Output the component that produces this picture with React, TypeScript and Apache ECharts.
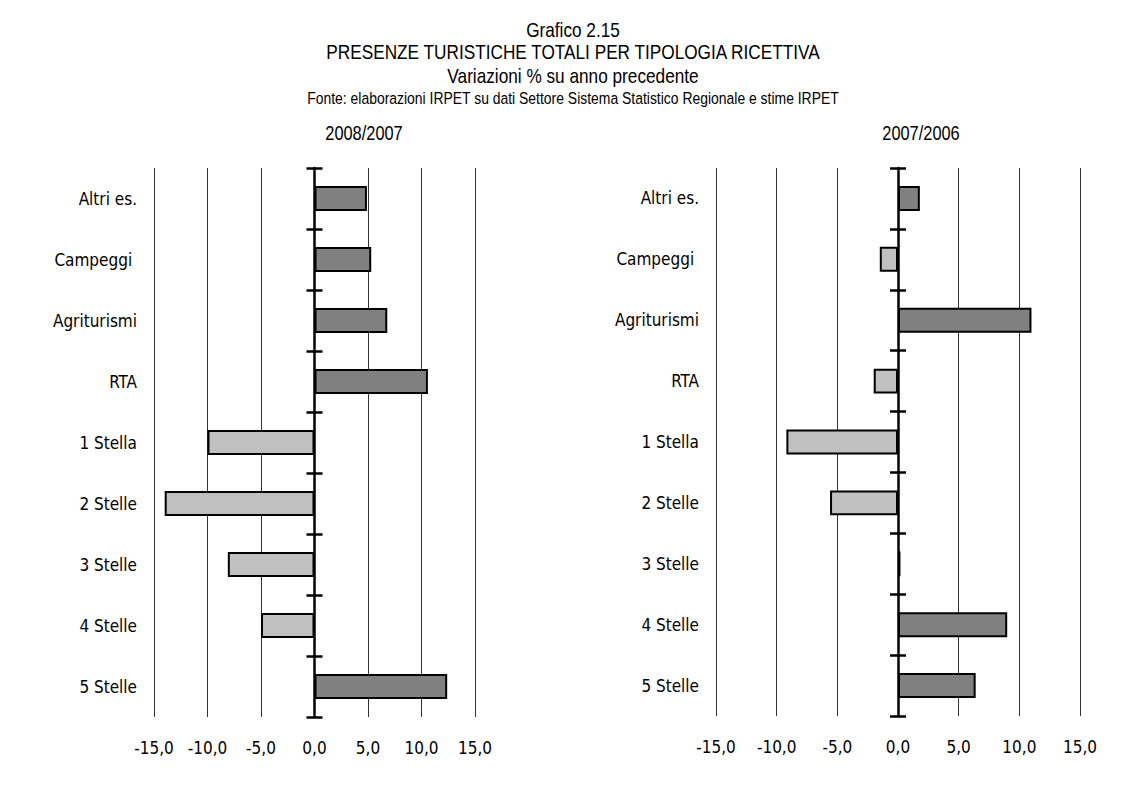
import React, { useEffect, useRef } from "react";
import * as echarts from "echarts";

const categories = [
  "Altri es.",
  "Campeggi ",
  "Agriturismi",
  "RTA",
  "1 Stella",
  "2 Stelle",
  "3 Stelle",
  "4 Stelle",
  "5 Stelle",
];
const values2008 = [4.9, 5.3, 6.8, 10.6, -10.0, -14.0, -8.1, -5.0, 12.4];
const values2007 = [1.8, -1.5, 11.0, -2.0, -9.2, -5.6, 0.2, 9.0, 6.4];
const xTicks = { min: -15, max: 15, interval: 5 };
const titleLines = [
  "Grafico 2.15",
  "PRESENZE TURISTICHE TOTALI PER TIPOLOGIA RICETTIVA",
  "Variazioni % su anno precedente",
  "Fonte: elaborazioni IRPET su dati Settore Sistema Statistico Regionale e stime IRPET",
];
const panelTitles = ["2008/2007", "2007/2006"];

const AXIS_FONT = "'DejaVu Sans Condensed', 'Liberation Sans', sans-serif";
const TITLE_FONT = "'Liberation Sans', Arial, sans-serif";

export default function App() {
  const ref = useRef<HTMLDivElement>(null);
  useEffect(() => {
    if (!ref.current) return;
    const chart = echarts.init(ref.current, null, { renderer: "svg" });
    const grids = [
      { left: 154, top: 168, width: 321, height: 549 },
      { left: 716, top: 168, width: 364, height: 548 },
    ];
    const xAxes: any[] = [];
    const yAxes: any[] = [];
    const series: any[] = [];
    [values2008, values2007].forEach((vals, gi) => {
      xAxes.push({
        type: "value",
        gridIndex: gi,
        min: xTicks.min,
        max: xTicks.max,
        interval: xTicks.interval,
        axisLine: { show: false },
        axisTick: { show: false },
        splitLine: { show: true, lineStyle: { color: "#333", width: 1 } },
        axisLabel: {
          margin: 22,
          fontSize: 17,
          fontFamily: AXIS_FONT,
          color: "#000",
          formatter: (v: number) => v.toFixed(1).replace(".", ","),
        },
      });
      const base = yAxes.length;
      yAxes.push({
        type: "category",
        gridIndex: gi,
        data: categories,
        inverse: true,
        position: "left",
        axisLine: { show: false, onZero: false },
        axisTick: { show: false },
        axisLabel: { margin: 17, fontSize: 17, fontFamily: AXIS_FONT, color: "#000" },
      });
      yAxes.push({
        type: "category",
        gridIndex: gi,
        data: categories,
        inverse: true,
        position: "left",
        axisLine: { show: true, onZero: true, onZeroAxisIndex: gi, lineStyle: { color: "#000", width: 2.5 } },
        axisTick: { show: true, inside: false, length: 8, lineStyle: { color: "#000", width: 2.5 } },
        axisLabel: { show: false },
      });
      yAxes.push({
        type: "category",
        gridIndex: gi,
        data: categories,
        inverse: true,
        position: "left",
        axisLine: { show: false, onZero: true, onZeroAxisIndex: gi },
        axisTick: { show: true, inside: true, length: 8, lineStyle: { color: "#000", width: 2.5 } },
        axisLabel: { show: false },
      });
      series.push({
        type: "bar",
        xAxisIndex: gi,
        yAxisIndex: base,
        barWidth: "41%",
        z: 1,
        data: vals.map((v) => ({
          value: v,
          itemStyle: {
            color: v >= 0 ? "#808080" : "#c0c0c0",
            borderColor: "#000",
            borderWidth: 2,
          },
        })),
      });
    });

    const titleY = [30, 52, 76, 98];
    const titleSize = [21, 21, 21, 17];
    const graphic: any[] = titleLines.map((t, i) => ({
      type: "text",
      x: 573,
      y: titleY[i],
      scaleX: 0.82,
      style: {
        text: t,
        align: "center",
        verticalAlign: "middle",
        fontSize: titleSize[i],
        fontFamily: TITLE_FONT,
        fill: "#000",
      },
    }));
    const panelX = [364, 921];
    panelTitles.forEach((t, i) => {
      graphic.push({
        type: "text",
        x: panelX[i],
        y: 133,
        scaleX: 0.82,
        style: {
          text: t,
          align: "center",
          verticalAlign: "middle",
          fontSize: 20,
          fontFamily: TITLE_FONT,
          fill: "#000",
        },
      });
    });

    chart.setOption({
      animation: false,
      backgroundColor: "#fff",
      grid: grids,
      xAxis: xAxes,
      yAxis: yAxes,
      series,
      graphic,
    });
    return () => chart.dispose();
  }, []);
  return (
    <div
      ref={ref}
      style={{ position: "fixed", left: 0, top: 0, width: 1146, height: 786 }}
    />
  );
}
